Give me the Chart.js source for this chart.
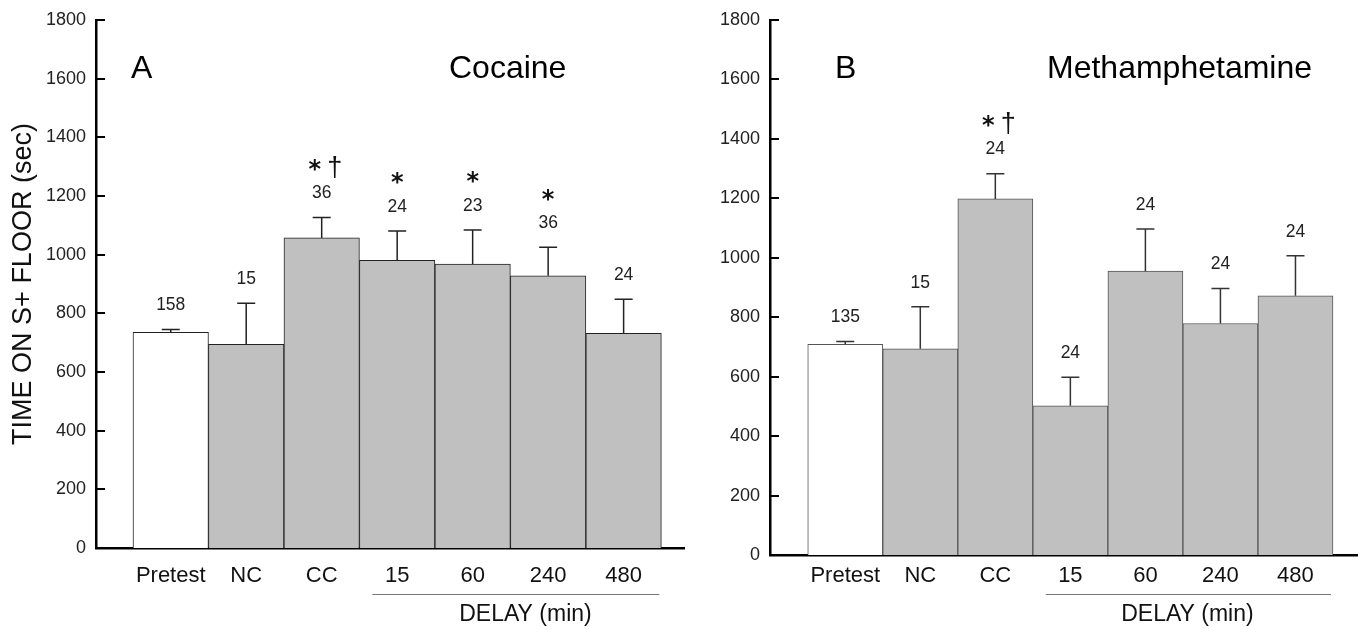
<!DOCTYPE html>
<html><head><meta charset="utf-8">
<script src="https://cdn.jsdelivr.net/npm/chart.js@4/dist/chart.umd.min.js"></script>
<style>
html,body{margin:0;padding:0;background:#fff}
body{width:1361px;height:629px;overflow:hidden;position:relative}
#ca{position:absolute;left:0;top:0}
#cb{position:absolute;left:690px;top:0}
</style></head><body>
<canvas id="ca" width="690" height="629"></canvas>
<canvas id="cb" width="671" height="629"></canvas>
<script>
// ---- data ----
const categories = ['Pretest', 'NC', 'CC', '15', '60', '240', '480'];
const yTickValues = [0, 200, 400, 600, 800, 1000, 1200, 1400, 1600, 1800];

const cocaineMeans = [735, 694, 1057, 981, 968, 928, 732];
const cocaineSEM   = [10, 140, 70, 100, 116, 97, 116];
const cocaineN     = ['158', '15', '36', '24', '23', '36', '24'];
const cocaineSig   = ['', '', '*†', '*', '*', '*', ''];

const methMeans = [709, 694, 1198, 502, 955, 779, 872];
const methSEM   = [9, 141, 85, 96, 142, 118, 135];
const methN     = ['135', '15', '24', '24', '24', '24', '24'];
const methSig   = ['', '', '*†', '', '', '', ''];

const delayLabel = 'DELAY (min)';
const yTitle = 'TIME ON S+ FLOOR (sec)';

Chart.defaults.font.family = "'Liberation Sans', Arial, Helvetica, sans-serif";
Chart.defaults.color = '#111';

const decor = {
  id: 'decor',
  afterDraw(chart, args, o) {
    const ctx = chart.ctx;
    const xs = chart.scales.x, ys = chart.scales.y;
    const area = chart.chartArea;
    ctx.save();
    // inward y ticks
    ctx.strokeStyle = '#000';
    ctx.lineWidth = 2;
    yTickValues.forEach(v => {
      const y = Math.round(ys.getPixelForValue(v));
      ctx.beginPath();
      ctx.moveTo(area.left, y);
      ctx.lineTo(area.left + 9, y);
      ctx.stroke();
    });
    // error bars + labels
    const meta = chart.getDatasetMeta(0);
    meta.data.forEach((bar, i) => {
      const x = bar.x;
      const yTop = ys.getPixelForValue(o.means[i] + o.sem[i]);
      ctx.strokeStyle = o.errColor;
      ctx.lineWidth = 1.5;
      ctx.beginPath();
      ctx.moveTo(x, bar.y);
      ctx.lineTo(x, yTop);
      ctx.moveTo(x - 9, yTop);
      ctx.lineTo(x + 9, yTop);
      ctx.stroke();
      const nY = yTop - 24;
      ctx.fillStyle = '#222';
      ctx.font = "17.5px 'Liberation Sans', Arial, sans-serif";
      ctx.textAlign = 'center';
      ctx.textBaseline = 'middle';
      ctx.fillText(o.n[i], x, nY);
      const sig = o.sig[i];
      const sY = nY - 30;
      if (sig === '*') {
        ctx.fillStyle = '#111';
        ctx.font = "bold 24px 'DejaVu Sans', sans-serif";
        ctx.fillText('*', x, sY + 7);
      } else if (sig === '*†') {
        ctx.fillStyle = '#111';
        ctx.font = "bold 24px 'DejaVu Sans', sans-serif";
        ctx.fillText('*', x - 7, sY + 7);
        ctx.font = "27px 'Liberation Sans', Arial, sans-serif";
        ctx.fillText('†', x + 13, sY + 5);
      }
    });
    // panel letter and drug name
    ctx.fillStyle = '#000';
    ctx.textAlign = 'left';
    ctx.textBaseline = 'alphabetic';
    ctx.font = "32px 'Liberation Sans', Arial, sans-serif";
    ctx.fillText(o.letter, o.letterX, 78);
    ctx.fillText(o.drug, o.drugX, 78);
    // delay underline + label
    ctx.strokeStyle = '#777';
    ctx.lineWidth = 1;
    ctx.beginPath();
    ctx.moveTo(xs.getPixelForValue(2.5) + 13, 594.5);
    ctx.lineTo(xs.getPixelForValue(6.5) - 2, 594.5);
    ctx.stroke();
    ctx.fillStyle = '#111';
    ctx.textAlign = 'center';
    ctx.textBaseline = 'middle';
    ctx.font = "23px 'Liberation Sans', Arial, sans-serif";
    ctx.fillText(delayLabel, xs.getPixelForValue(o.delayX), 615);
    ctx.restore();
  }
};

function makePanel(id, p) {
  return new Chart(document.getElementById(id), {
    type: 'bar',
    data: {
      datasets: [{
        data: p.means.map((v, i) => ({ x: i, y: v })),
        backgroundColor: p.means.map((_, i) => i === 0 ? '#ffffff' : '#c0c0c0'),
        borderColor: p.edge,
        borderWidth: 1,
        borderSkipped: 'start',
        barPercentage: 1,
        categoryPercentage: 1
      }]
    },
    options: {
      responsive: false,
      animation: false,
      devicePixelRatio: 1,
      layout: { padding: { left: 0, right: p.padRight, top: 20, bottom: 0 } },
      plugins: {
        legend: { display: false },
        tooltip: { enabled: false },
        decor: {
          means: p.means, sem: p.sem, n: p.n, sig: p.sig,
          letter: p.letter, letterX: p.letterX, drug: p.drug, drugX: p.drugX,
          delayX: p.delayX, errColor: p.errColor
        }
      },
      scales: {
        x: {
          type: 'linear',
          min: p.xMin, max: p.xMax,
          offset: false,
          z: 1,
          grid: { display: false, drawTicks: false, offset: false },
          border: { display: true, color: '#000', width: 2.5 },
          afterBuildTicks: s => { s.ticks = categories.map((c, i) => ({ value: i })); },
          ticks: {
            callback: v => categories[v],
            font: { size: 22 }, color: '#111',
            padding: p.xPad, autoSkip: false, maxRotation: 0
          },
          afterFit: s => { s.height = p.xH; s.paddingLeft = 0; s.paddingRight = 0; }
        },
        y: {
          min: 0, max: 1800,
          z: 1,
          afterBuildTicks: s => { s.ticks = yTickValues.map(v => ({ value: v })); },
          grid: { display: false, drawTicks: false },
          border: { display: true, color: '#000', width: 2.5 },
          ticks: { callback: v => String(v), font: { size: 18 }, color: '#222', padding: 10 },
          title: {
            display: p.showTitle, text: yTitle,
            font: { size: 27 }, color: '#111',
            padding: { top: 7, bottom: 0 }
          },
          afterFit: s => { s.width = p.yW; s.paddingTop = 0; s.paddingBottom = 0; }
        }
      }
    },
    plugins: [decor]
  });
}

makePanel('ca', {
  means: cocaineMeans, sem: cocaineSEM, n: cocaineN, sig: cocaineSig,
  letter: 'A', letterX: 131, drug: 'Cocaine', drugX: 449,
  xMin: -0.99, xMax: 6.8, yW: 96, xH: 81, xPad: 15, padRight: 6,
  edge: '#222', errColor: '#222', delayX: 4.7, showTitle: true
});
makePanel('cb', {
  means: methMeans, sem: methSEM, n: methN, sig: methSig,
  letter: 'B', letterX: 145, drug: 'Methamphetamine', drugX: 357,
  xMin: -1.003, xMax: 6.82, yW: 80, xH: 74, xPad: 8, padRight: 4,
  edge: '#555', errColor: '#333', delayX: 4.56, showTitle: false
});
</script>
</body></html>
